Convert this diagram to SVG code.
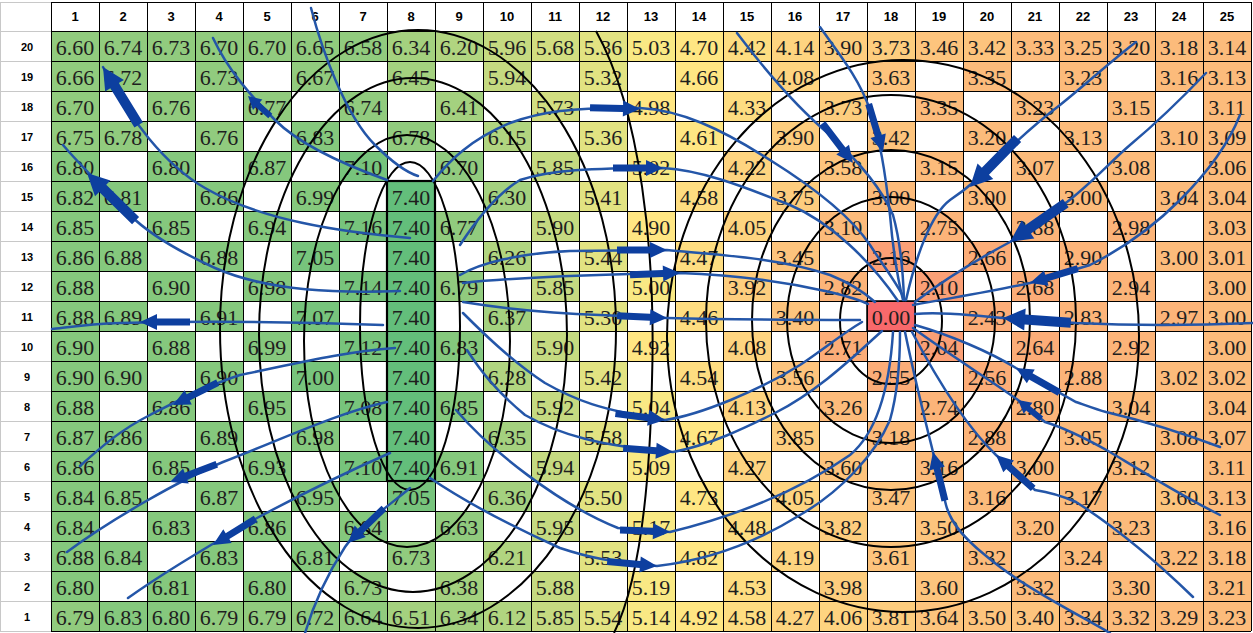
<svg xmlns="http://www.w3.org/2000/svg" width="1253" height="633" viewBox="0 0 1253 633">
<style>
.a{fill:#63BE7B}.b{fill:#77C47C}.c{fill:#85C87D}.d{fill:#91CB7E}.e{fill:#A4D17F}.f{fill:#B1D580}.g{fill:#C5DA81}.h{fill:#D2DE81}.i{fill:#E2E382}.j{fill:#F9E984}.k{fill:#FFE683}.l{fill:#FEDD81}.m{fill:#FED480}.n{fill:#FDCD7E}.o{fill:#FDC47D}.p{fill:#FCBB7B}.q{fill:#FCB479}.s{fill:#FCAD78}.t{fill:#FBA076}.u{fill:#F8696B}
.v text{font-family:"Liberation Serif","Times New Roman",serif;font-size:22px;fill:#1e1e1e;text-anchor:middle}
.hd text{font-family:"Liberation Sans",Arial,sans-serif;font-weight:bold;font-size:13px;fill:#000;text-anchor:middle}
.rl text{font-family:"Liberation Sans",Arial,sans-serif;font-weight:bold;font-size:11px;fill:#000;text-anchor:middle}
.grid{stroke:#000;stroke-width:1;fill:none;shape-rendering:crispEdges}
.lgrid{stroke:#c8c8c8;stroke-width:1;fill:none;shape-rendering:crispEdges}
.blk{fill:none;stroke:#000;stroke-width:2}
.fl{fill:none;stroke:#2456a8;stroke-width:2.5;stroke-linecap:round}
.ar{fill:none;stroke:none}
</style>
<defs>
<marker id="as" markerUnits="userSpaceOnUse" viewBox="-32 -9 34 18" markerWidth="34" markerHeight="18" refX="0" refY="0" orient="auto" overflow="visible"><path d="M-30,-3 L-13,-3 L-13,-7 L0,0 L-13,7 L-13,3 L-30,3 Z" fill="#0d3f9f"/></marker>
<marker id="am" markerUnits="userSpaceOnUse" viewBox="-52 -9 54 18" markerWidth="54" markerHeight="18" refX="0" refY="0" orient="auto" overflow="visible"><path d="M-50,-3.5 L-17,-3.5 L-17,-8 L0,0 L-17,8 L-17,3.5 L-50,3.5 Z" fill="#0d3f9f"/></marker>
<marker id="al" markerUnits="userSpaceOnUse" viewBox="-70 -12 72 24" markerWidth="72" markerHeight="24" refX="0" refY="0" orient="auto" overflow="visible"><path d="M-68,-5 L-22,-5 L-22,-11 L0,0 L-22,11 L-22,5 L-68,5 Z" fill="#0d3f9f"/></marker>
</defs>
<rect x="0" y="0" width="1253" height="633" fill="#fff"/>
<g id="cells">
<rect class="d" x="51" y="31" width="48" height="30"/><rect class="d" x="99" y="31" width="48" height="30"/><rect class="d" x="147" y="31" width="48" height="30"/><rect class="d" x="195" y="31" width="48" height="30"/><rect class="d" x="243" y="31" width="48" height="30"/><rect class="d" x="291" y="31" width="48" height="30"/><rect class="d" x="339" y="31" width="48" height="30"/><rect class="e" x="387" y="31" width="48" height="30"/><rect class="f" x="435" y="31" width="48" height="30"/><rect class="g" x="483" y="31" width="48" height="30"/><rect class="h" x="531" y="31" width="48" height="30"/><rect class="i" x="579" y="31" width="48" height="30"/><rect class="j" x="627" y="31" width="48" height="30"/><rect class="k" x="675" y="31" width="48" height="30"/><rect class="l" x="723" y="31" width="48" height="30"/><rect class="m" x="771" y="31" width="48" height="30"/><rect class="n" x="819" y="31" width="48" height="30"/><rect class="n" x="867" y="31" width="48" height="30"/><rect class="o" x="915" y="31" width="48" height="30"/><rect class="o" x="963" y="31" width="48" height="30"/><rect class="p" x="1011" y="31" width="48" height="30"/><rect class="p" x="1059" y="31" width="48" height="30"/><rect class="p" x="1107" y="31" width="48" height="30"/><rect class="p" x="1155" y="31" width="48" height="30"/><rect class="p" x="1203" y="31" width="48" height="30"/>
<rect class="d" x="51" y="61" width="48" height="30"/><rect class="d" x="99" y="61" width="48" height="30"/><rect class="d" x="195" y="61" width="48" height="30"/><rect class="d" x="291" y="61" width="48" height="30"/><rect class="e" x="387" y="61" width="48" height="30"/><rect class="g" x="483" y="61" width="48" height="30"/><rect class="i" x="579" y="61" width="48" height="30"/><rect class="k" x="675" y="61" width="48" height="30"/><rect class="m" x="771" y="61" width="48" height="30"/><rect class="o" x="867" y="61" width="48" height="30"/><rect class="p" x="963" y="61" width="48" height="30"/><rect class="p" x="1059" y="61" width="48" height="30"/><rect class="p" x="1155" y="61" width="48" height="30"/><rect class="p" x="1203" y="61" width="48" height="30"/>
<rect class="d" x="51" y="91" width="48" height="30"/><rect class="d" x="147" y="91" width="48" height="30"/><rect class="d" x="243" y="91" width="48" height="30"/><rect class="d" x="339" y="91" width="48" height="30"/><rect class="e" x="435" y="91" width="48" height="30"/><rect class="h" x="531" y="91" width="48" height="30"/><rect class="k" x="627" y="91" width="48" height="30"/><rect class="l" x="723" y="91" width="48" height="30"/><rect class="n" x="819" y="91" width="48" height="30"/><rect class="p" x="915" y="91" width="48" height="30"/><rect class="p" x="1011" y="91" width="48" height="30"/><rect class="p" x="1107" y="91" width="48" height="30"/><rect class="p" x="1203" y="91" width="48" height="30"/>
<rect class="d" x="51" y="121" width="48" height="30"/><rect class="d" x="99" y="121" width="48" height="30"/><rect class="d" x="195" y="121" width="48" height="30"/><rect class="c" x="291" y="121" width="48" height="30"/><rect class="d" x="387" y="121" width="48" height="30"/><rect class="f" x="483" y="121" width="48" height="30"/><rect class="i" x="579" y="121" width="48" height="30"/><rect class="k" x="675" y="121" width="48" height="30"/><rect class="n" x="771" y="121" width="48" height="30"/><rect class="o" x="867" y="121" width="48" height="30"/><rect class="p" x="963" y="121" width="48" height="30"/><rect class="p" x="1059" y="121" width="48" height="30"/><rect class="p" x="1155" y="121" width="48" height="30"/><rect class="p" x="1203" y="121" width="48" height="30"/>
<rect class="c" x="51" y="151" width="48" height="30"/><rect class="c" x="147" y="151" width="48" height="30"/><rect class="c" x="243" y="151" width="48" height="30"/><rect class="b" x="339" y="151" width="48" height="30"/><rect class="d" x="435" y="151" width="48" height="30"/><rect class="g" x="531" y="151" width="48" height="30"/><rect class="j" x="627" y="151" width="48" height="30"/><rect class="m" x="723" y="151" width="48" height="30"/><rect class="o" x="819" y="151" width="48" height="30"/><rect class="p" x="915" y="151" width="48" height="30"/><rect class="p" x="1011" y="151" width="48" height="30"/><rect class="p" x="1107" y="151" width="48" height="30"/><rect class="p" x="1203" y="151" width="48" height="30"/>
<rect class="c" x="51" y="181" width="48" height="30"/><rect class="c" x="99" y="181" width="48" height="30"/><rect class="c" x="195" y="181" width="48" height="30"/><rect class="c" x="291" y="181" width="48" height="30"/><rect class="a" x="387" y="181" width="48" height="30"/><rect class="e" x="483" y="181" width="48" height="30"/><rect class="i" x="579" y="181" width="48" height="30"/><rect class="l" x="675" y="181" width="48" height="30"/><rect class="n" x="771" y="181" width="48" height="30"/><rect class="p" x="867" y="181" width="48" height="30"/><rect class="p" x="963" y="181" width="48" height="30"/><rect class="p" x="1059" y="181" width="48" height="30"/><rect class="p" x="1155" y="181" width="48" height="30"/><rect class="p" x="1203" y="181" width="48" height="30"/>
<rect class="c" x="51" y="211" width="48" height="30"/><rect class="c" x="147" y="211" width="48" height="30"/><rect class="c" x="243" y="211" width="48" height="30"/><rect class="b" x="339" y="211" width="48" height="30"/><rect class="a" x="387" y="211" width="48" height="30"/><rect class="d" x="435" y="211" width="48" height="30"/><rect class="g" x="531" y="211" width="48" height="30"/><rect class="k" x="627" y="211" width="48" height="30"/><rect class="m" x="723" y="211" width="48" height="30"/><rect class="p" x="819" y="211" width="48" height="30"/><rect class="q" x="915" y="211" width="48" height="30"/><rect class="q" x="1011" y="211" width="48" height="30"/><rect class="q" x="1107" y="211" width="48" height="30"/><rect class="p" x="1203" y="211" width="48" height="30"/>
<rect class="c" x="51" y="241" width="48" height="30"/><rect class="c" x="99" y="241" width="48" height="30"/><rect class="c" x="195" y="241" width="48" height="30"/><rect class="b" x="291" y="241" width="48" height="30"/><rect class="a" x="387" y="241" width="48" height="30"/><rect class="f" x="483" y="241" width="48" height="30"/><rect class="i" x="579" y="241" width="48" height="30"/><rect class="l" x="675" y="241" width="48" height="30"/><rect class="o" x="771" y="241" width="48" height="30"/><rect class="t" x="867" y="241" width="48" height="30"/><rect class="s" x="963" y="241" width="48" height="30"/><rect class="q" x="1059" y="241" width="48" height="30"/><rect class="p" x="1155" y="241" width="48" height="30"/><rect class="p" x="1203" y="241" width="48" height="30"/>
<rect class="c" x="51" y="271" width="48" height="30"/><rect class="c" x="147" y="271" width="48" height="30"/><rect class="c" x="243" y="271" width="48" height="30"/><rect class="b" x="339" y="271" width="48" height="30"/><rect class="a" x="387" y="271" width="48" height="30"/><rect class="d" x="435" y="271" width="48" height="30"/><rect class="g" x="531" y="271" width="48" height="30"/><rect class="j" x="627" y="271" width="48" height="30"/><rect class="n" x="723" y="271" width="48" height="30"/><rect class="q" x="819" y="271" width="48" height="30"/><rect class="t" x="915" y="271" width="48" height="30"/><rect class="s" x="1011" y="271" width="48" height="30"/><rect class="q" x="1107" y="271" width="48" height="30"/><rect class="p" x="1203" y="271" width="48" height="30"/>
<rect class="c" x="51" y="301" width="48" height="30"/><rect class="c" x="99" y="301" width="48" height="30"/><rect class="c" x="195" y="301" width="48" height="30"/><rect class="b" x="291" y="301" width="48" height="30"/><rect class="a" x="387" y="301" width="48" height="30"/><rect class="e" x="483" y="301" width="48" height="30"/><rect class="i" x="579" y="301" width="48" height="30"/><rect class="l" x="675" y="301" width="48" height="30"/><rect class="o" x="771" y="301" width="48" height="30"/><rect class="u" x="867" y="301" width="48" height="30"/><rect class="s" x="963" y="301" width="48" height="30"/><rect class="q" x="1059" y="301" width="48" height="30"/><rect class="q" x="1155" y="301" width="48" height="30"/><rect class="p" x="1203" y="301" width="48" height="30"/>
<rect class="c" x="51" y="331" width="48" height="30"/><rect class="c" x="147" y="331" width="48" height="30"/><rect class="c" x="243" y="331" width="48" height="30"/><rect class="b" x="339" y="331" width="48" height="30"/><rect class="a" x="387" y="331" width="48" height="30"/><rect class="c" x="435" y="331" width="48" height="30"/><rect class="g" x="531" y="331" width="48" height="30"/><rect class="k" x="627" y="331" width="48" height="30"/><rect class="m" x="723" y="331" width="48" height="30"/><rect class="s" x="819" y="331" width="48" height="30"/><rect class="t" x="915" y="331" width="48" height="30"/><rect class="s" x="1011" y="331" width="48" height="30"/><rect class="q" x="1107" y="331" width="48" height="30"/><rect class="p" x="1203" y="331" width="48" height="30"/>
<rect class="c" x="51" y="361" width="48" height="30"/><rect class="c" x="99" y="361" width="48" height="30"/><rect class="c" x="195" y="361" width="48" height="30"/><rect class="b" x="291" y="361" width="48" height="30"/><rect class="a" x="387" y="361" width="48" height="30"/><rect class="f" x="483" y="361" width="48" height="30"/><rect class="i" x="579" y="361" width="48" height="30"/><rect class="l" x="675" y="361" width="48" height="30"/><rect class="o" x="771" y="361" width="48" height="30"/><rect class="s" x="867" y="361" width="48" height="30"/><rect class="s" x="963" y="361" width="48" height="30"/><rect class="q" x="1059" y="361" width="48" height="30"/><rect class="p" x="1155" y="361" width="48" height="30"/><rect class="p" x="1203" y="361" width="48" height="30"/>
<rect class="c" x="51" y="391" width="48" height="30"/><rect class="c" x="147" y="391" width="48" height="30"/><rect class="c" x="243" y="391" width="48" height="30"/><rect class="b" x="339" y="391" width="48" height="30"/><rect class="a" x="387" y="391" width="48" height="30"/><rect class="c" x="435" y="391" width="48" height="30"/><rect class="g" x="531" y="391" width="48" height="30"/><rect class="j" x="627" y="391" width="48" height="30"/><rect class="m" x="723" y="391" width="48" height="30"/><rect class="p" x="819" y="391" width="48" height="30"/><rect class="q" x="915" y="391" width="48" height="30"/><rect class="q" x="1011" y="391" width="48" height="30"/><rect class="p" x="1107" y="391" width="48" height="30"/><rect class="p" x="1203" y="391" width="48" height="30"/>
<rect class="c" x="51" y="421" width="48" height="30"/><rect class="c" x="99" y="421" width="48" height="30"/><rect class="c" x="195" y="421" width="48" height="30"/><rect class="c" x="291" y="421" width="48" height="30"/><rect class="a" x="387" y="421" width="48" height="30"/><rect class="e" x="483" y="421" width="48" height="30"/><rect class="i" x="579" y="421" width="48" height="30"/><rect class="k" x="675" y="421" width="48" height="30"/><rect class="n" x="771" y="421" width="48" height="30"/><rect class="p" x="867" y="421" width="48" height="30"/><rect class="q" x="963" y="421" width="48" height="30"/><rect class="p" x="1059" y="421" width="48" height="30"/><rect class="p" x="1155" y="421" width="48" height="30"/><rect class="p" x="1203" y="421" width="48" height="30"/>
<rect class="c" x="51" y="451" width="48" height="30"/><rect class="c" x="147" y="451" width="48" height="30"/><rect class="c" x="243" y="451" width="48" height="30"/><rect class="b" x="339" y="451" width="48" height="30"/><rect class="a" x="387" y="451" width="48" height="30"/><rect class="c" x="435" y="451" width="48" height="30"/><rect class="g" x="531" y="451" width="48" height="30"/><rect class="j" x="627" y="451" width="48" height="30"/><rect class="m" x="723" y="451" width="48" height="30"/><rect class="o" x="819" y="451" width="48" height="30"/><rect class="p" x="915" y="451" width="48" height="30"/><rect class="p" x="1011" y="451" width="48" height="30"/><rect class="p" x="1107" y="451" width="48" height="30"/><rect class="p" x="1203" y="451" width="48" height="30"/>
<rect class="c" x="51" y="481" width="48" height="30"/><rect class="c" x="99" y="481" width="48" height="30"/><rect class="c" x="195" y="481" width="48" height="30"/><rect class="c" x="291" y="481" width="48" height="30"/><rect class="b" x="387" y="481" width="48" height="30"/><rect class="e" x="483" y="481" width="48" height="30"/><rect class="i" x="579" y="481" width="48" height="30"/><rect class="k" x="675" y="481" width="48" height="30"/><rect class="m" x="771" y="481" width="48" height="30"/><rect class="o" x="867" y="481" width="48" height="30"/><rect class="p" x="963" y="481" width="48" height="30"/><rect class="p" x="1059" y="481" width="48" height="30"/><rect class="o" x="1155" y="481" width="48" height="30"/><rect class="p" x="1203" y="481" width="48" height="30"/>
<rect class="c" x="51" y="511" width="48" height="30"/><rect class="c" x="147" y="511" width="48" height="30"/><rect class="c" x="243" y="511" width="48" height="30"/><rect class="c" x="339" y="511" width="48" height="30"/><rect class="d" x="435" y="511" width="48" height="30"/><rect class="g" x="531" y="511" width="48" height="30"/><rect class="j" x="627" y="511" width="48" height="30"/><rect class="l" x="723" y="511" width="48" height="30"/><rect class="n" x="819" y="511" width="48" height="30"/><rect class="o" x="915" y="511" width="48" height="30"/><rect class="p" x="1011" y="511" width="48" height="30"/><rect class="p" x="1107" y="511" width="48" height="30"/><rect class="p" x="1203" y="511" width="48" height="30"/>
<rect class="c" x="51" y="541" width="48" height="30"/><rect class="c" x="99" y="541" width="48" height="30"/><rect class="c" x="195" y="541" width="48" height="30"/><rect class="c" x="291" y="541" width="48" height="30"/><rect class="d" x="387" y="541" width="48" height="30"/><rect class="f" x="483" y="541" width="48" height="30"/><rect class="i" x="579" y="541" width="48" height="30"/><rect class="k" x="675" y="541" width="48" height="30"/><rect class="m" x="771" y="541" width="48" height="30"/><rect class="o" x="867" y="541" width="48" height="30"/><rect class="p" x="963" y="541" width="48" height="30"/><rect class="p" x="1059" y="541" width="48" height="30"/><rect class="p" x="1155" y="541" width="48" height="30"/><rect class="p" x="1203" y="541" width="48" height="30"/>
<rect class="c" x="51" y="571" width="48" height="30"/><rect class="c" x="147" y="571" width="48" height="30"/><rect class="c" x="243" y="571" width="48" height="30"/><rect class="d" x="339" y="571" width="48" height="30"/><rect class="e" x="435" y="571" width="48" height="30"/><rect class="g" x="531" y="571" width="48" height="30"/><rect class="j" x="627" y="571" width="48" height="30"/><rect class="l" x="723" y="571" width="48" height="30"/><rect class="n" x="819" y="571" width="48" height="30"/><rect class="o" x="915" y="571" width="48" height="30"/><rect class="p" x="1011" y="571" width="48" height="30"/><rect class="p" x="1107" y="571" width="48" height="30"/><rect class="p" x="1203" y="571" width="48" height="30"/>
<rect class="d" x="51" y="601" width="48" height="30"/><rect class="c" x="99" y="601" width="48" height="30"/><rect class="c" x="147" y="601" width="48" height="30"/><rect class="d" x="195" y="601" width="48" height="30"/><rect class="d" x="243" y="601" width="48" height="30"/><rect class="d" x="291" y="601" width="48" height="30"/><rect class="d" x="339" y="601" width="48" height="30"/><rect class="e" x="387" y="601" width="48" height="30"/><rect class="e" x="435" y="601" width="48" height="30"/><rect class="f" x="483" y="601" width="48" height="30"/><rect class="g" x="531" y="601" width="48" height="30"/><rect class="i" x="579" y="601" width="48" height="30"/><rect class="j" x="627" y="601" width="48" height="30"/><rect class="k" x="675" y="601" width="48" height="30"/><rect class="l" x="723" y="601" width="48" height="30"/><rect class="m" x="771" y="601" width="48" height="30"/><rect class="m" x="819" y="601" width="48" height="30"/><rect class="n" x="867" y="601" width="48" height="30"/><rect class="o" x="915" y="601" width="48" height="30"/><rect class="o" x="963" y="601" width="48" height="30"/><rect class="o" x="1011" y="601" width="48" height="30"/><rect class="p" x="1059" y="601" width="48" height="30"/><rect class="p" x="1107" y="601" width="48" height="30"/><rect class="p" x="1155" y="601" width="48" height="30"/><rect class="p" x="1203" y="601" width="48" height="30"/>
</g>
<g id="gridlines">
<path class="lgrid" d="M0.5,2V631M0,2H51M0,31H51M0,61H51M0,91H51M0,121H51M0,151H51M0,181H51M0,211H51M0,241H51M0,271H51M0,301H51M0,331H51M0,361H51M0,391H51M0,421H51M0,451H51M0,481H51M0,511H51M0,541H51M0,571H51M0,601H51M0,631H51"/>
<path class="grid" d="M51,2H1251M51,31H1251M51,61H1251M51,91H1251M51,121H1251M51,151H1251M51,181H1251M51,211H1251M51,241H1251M51,271H1251M51,301H1251M51,331H1251M51,361H1251M51,391H1251M51,421H1251M51,451H1251M51,481H1251M51,511H1251M51,541H1251M51,571H1251M51,601H1251M51,631H1251M51,2V631M99,2V631M147,2V631M195,2V631M243,2V631M291,2V631M339,2V631M387,2V631M435,2V631M483,2V631M531,2V631M579,2V631M627,2V631M675,2V631M723,2V631M771,2V631M819,2V631M867,2V631M915,2V631M963,2V631M1011,2V631M1059,2V631M1107,2V631M1155,2V631M1203,2V631M1251,2V631"/>
<rect x="387" y="181" width="48" height="300" fill="none" stroke="#000" stroke-width="2.2"/>
<rect x="867" y="301" width="48" height="30" fill="none" stroke="#000" stroke-width="1.5"/>
</g>
<g id="headers" class="hd">
<text x="75" y="21">1</text><text x="123" y="21">2</text><text x="171" y="21">3</text><text x="219" y="21">4</text><text x="267" y="21">5</text><text x="315" y="21">6</text><text x="363" y="21">7</text><text x="411" y="21">8</text><text x="459" y="21">9</text><text x="507" y="21">10</text><text x="555" y="21">11</text><text x="603" y="21">12</text><text x="651" y="21">13</text><text x="699" y="21">14</text><text x="747" y="21">15</text><text x="795" y="21">16</text><text x="843" y="21">17</text><text x="891" y="21">18</text><text x="939" y="21">19</text><text x="987" y="21">20</text><text x="1035" y="21">21</text><text x="1083" y="21">22</text><text x="1131" y="21">23</text><text x="1179" y="21">24</text><text x="1227" y="21">25</text>
</g>
<g id="rowlabels" class="rl">
<text x="27" y="51">20</text><text x="27" y="81">19</text><text x="27" y="111">18</text><text x="27" y="141">17</text><text x="27" y="171">16</text><text x="27" y="201">15</text><text x="27" y="231">14</text><text x="27" y="261">13</text><text x="27" y="291">12</text><text x="27" y="321">11</text><text x="27" y="351">10</text><text x="27" y="381">9</text><text x="27" y="411">8</text><text x="27" y="441">7</text><text x="27" y="471">6</text><text x="27" y="501">5</text><text x="27" y="531">4</text><text x="27" y="561">3</text><text x="27" y="591">2</text><text x="27" y="621">1</text>
</g>
<g id="values" class="v">
<text x="75" y="55">6.60</text><text x="123" y="55">6.74</text><text x="171" y="55">6.73</text><text x="219" y="55">6.70</text><text x="267" y="55">6.70</text><text x="315" y="55">6.65</text><text x="363" y="55">6.58</text><text x="411" y="55">6.34</text><text x="459" y="55">6.20</text><text x="507" y="55">5.96</text><text x="555" y="55">5.68</text><text x="603" y="55">5.36</text><text x="651" y="55">5.03</text><text x="699" y="55">4.70</text><text x="747" y="55">4.42</text><text x="795" y="55">4.14</text><text x="843" y="55">3.90</text><text x="891" y="55">3.73</text><text x="939" y="55">3.46</text><text x="987" y="55">3.42</text><text x="1035" y="55">3.33</text><text x="1083" y="55">3.25</text><text x="1131" y="55">3.20</text><text x="1179" y="55">3.18</text><text x="1227" y="55">3.14</text>
<text x="75" y="85">6.66</text><text x="123" y="85">6.72</text><text x="219" y="85">6.73</text><text x="315" y="85">6.67</text><text x="411" y="85">6.45</text><text x="507" y="85">5.94</text><text x="603" y="85">5.32</text><text x="699" y="85">4.66</text><text x="795" y="85">4.08</text><text x="891" y="85">3.63</text><text x="987" y="85">3.35</text><text x="1083" y="85">3.23</text><text x="1179" y="85">3.16</text><text x="1227" y="85">3.13</text>
<text x="75" y="115">6.70</text><text x="171" y="115">6.76</text><text x="267" y="115">6.77</text><text x="363" y="115">6.74</text><text x="459" y="115">6.41</text><text x="555" y="115">5.73</text><text x="651" y="115">4.98</text><text x="747" y="115">4.33</text><text x="843" y="115">3.73</text><text x="939" y="115">3.35</text><text x="1035" y="115">3.23</text><text x="1131" y="115">3.15</text><text x="1227" y="115">3.11</text>
<text x="75" y="145">6.75</text><text x="123" y="145">6.78</text><text x="219" y="145">6.76</text><text x="315" y="145">6.83</text><text x="411" y="145">6.78</text><text x="507" y="145">6.15</text><text x="603" y="145">5.36</text><text x="699" y="145">4.61</text><text x="795" y="145">3.90</text><text x="891" y="145">3.42</text><text x="987" y="145">3.20</text><text x="1083" y="145">3.13</text><text x="1179" y="145">3.10</text><text x="1227" y="145">3.09</text>
<text x="75" y="175">6.80</text><text x="171" y="175">6.80</text><text x="267" y="175">6.87</text><text x="363" y="175">7.10</text><text x="459" y="175">6.70</text><text x="555" y="175">5.85</text><text x="651" y="175">5.02</text><text x="747" y="175">4.22</text><text x="843" y="175">3.58</text><text x="939" y="175">3.15</text><text x="1035" y="175">3.07</text><text x="1131" y="175">3.08</text><text x="1227" y="175">3.06</text>
<text x="75" y="205">6.82</text><text x="123" y="205">6.81</text><text x="219" y="205">6.86</text><text x="315" y="205">6.99</text><text x="411" y="205">7.40</text><text x="507" y="205">6.30</text><text x="603" y="205">5.41</text><text x="699" y="205">4.58</text><text x="795" y="205">3.75</text><text x="891" y="205">3.00</text><text x="987" y="205">3.00</text><text x="1083" y="205">3.00</text><text x="1179" y="205">3.04</text><text x="1227" y="205">3.04</text>
<text x="75" y="235">6.85</text><text x="171" y="235">6.85</text><text x="267" y="235">6.94</text><text x="363" y="235">7.16</text><text x="411" y="235">7.40</text><text x="459" y="235">6.77</text><text x="555" y="235">5.90</text><text x="651" y="235">4.90</text><text x="747" y="235">4.05</text><text x="843" y="235">3.10</text><text x="939" y="235">2.75</text><text x="1035" y="235">2.88</text><text x="1131" y="235">2.98</text><text x="1227" y="235">3.03</text>
<text x="75" y="265">6.86</text><text x="123" y="265">6.88</text><text x="219" y="265">6.88</text><text x="315" y="265">7.05</text><text x="411" y="265">7.40</text><text x="507" y="265">6.26</text><text x="603" y="265">5.44</text><text x="699" y="265">4.47</text><text x="795" y="265">3.45</text><text x="891" y="265">2.16</text><text x="987" y="265">2.66</text><text x="1083" y="265">2.90</text><text x="1179" y="265">3.00</text><text x="1227" y="265">3.01</text>
<text x="75" y="295">6.88</text><text x="171" y="295">6.90</text><text x="267" y="295">6.98</text><text x="363" y="295">7.14</text><text x="411" y="295">7.40</text><text x="459" y="295">6.79</text><text x="555" y="295">5.85</text><text x="651" y="295">5.00</text><text x="747" y="295">3.92</text><text x="843" y="295">2.82</text><text x="939" y="295">2.10</text><text x="1035" y="295">2.68</text><text x="1131" y="295">2.94</text><text x="1227" y="295">3.00</text>
<text x="75" y="325">6.88</text><text x="123" y="325">6.89</text><text x="219" y="325">6.91</text><text x="315" y="325">7.07</text><text x="411" y="325">7.40</text><text x="507" y="325">6.37</text><text x="603" y="325">5.30</text><text x="699" y="325">4.46</text><text x="795" y="325">3.40</text><text x="891" y="325">0.00</text><text x="987" y="325">2.43</text><text x="1083" y="325">2.83</text><text x="1179" y="325">2.97</text><text x="1227" y="325">3.00</text>
<text x="75" y="355">6.90</text><text x="171" y="355">6.88</text><text x="267" y="355">6.99</text><text x="363" y="355">7.12</text><text x="411" y="355">7.40</text><text x="459" y="355">6.83</text><text x="555" y="355">5.90</text><text x="651" y="355">4.92</text><text x="747" y="355">4.08</text><text x="843" y="355">2.71</text><text x="939" y="355">2.04</text><text x="1035" y="355">2.64</text><text x="1131" y="355">2.92</text><text x="1227" y="355">3.00</text>
<text x="75" y="385">6.90</text><text x="123" y="385">6.90</text><text x="219" y="385">6.90</text><text x="315" y="385">7.00</text><text x="411" y="385">7.40</text><text x="507" y="385">6.28</text><text x="603" y="385">5.42</text><text x="699" y="385">4.54</text><text x="795" y="385">3.56</text><text x="891" y="385">2.55</text><text x="987" y="385">2.56</text><text x="1083" y="385">2.88</text><text x="1179" y="385">3.02</text><text x="1227" y="385">3.02</text>
<text x="75" y="415">6.88</text><text x="171" y="415">6.86</text><text x="267" y="415">6.95</text><text x="363" y="415">7.08</text><text x="411" y="415">7.40</text><text x="459" y="415">6.85</text><text x="555" y="415">5.92</text><text x="651" y="415">5.04</text><text x="747" y="415">4.13</text><text x="843" y="415">3.26</text><text x="939" y="415">2.74</text><text x="1035" y="415">2.80</text><text x="1131" y="415">3.04</text><text x="1227" y="415">3.04</text>
<text x="75" y="445">6.87</text><text x="123" y="445">6.86</text><text x="219" y="445">6.89</text><text x="315" y="445">6.98</text><text x="411" y="445">7.40</text><text x="507" y="445">6.35</text><text x="603" y="445">5.58</text><text x="699" y="445">4.67</text><text x="795" y="445">3.85</text><text x="891" y="445">3.18</text><text x="987" y="445">2.88</text><text x="1083" y="445">3.05</text><text x="1179" y="445">3.08</text><text x="1227" y="445">3.07</text>
<text x="75" y="475">6.86</text><text x="171" y="475">6.85</text><text x="267" y="475">6.93</text><text x="363" y="475">7.10</text><text x="411" y="475">7.40</text><text x="459" y="475">6.91</text><text x="555" y="475">5.94</text><text x="651" y="475">5.09</text><text x="747" y="475">4.27</text><text x="843" y="475">3.60</text><text x="939" y="475">3.16</text><text x="1035" y="475">3.00</text><text x="1131" y="475">3.12</text><text x="1227" y="475">3.11</text>
<text x="75" y="505">6.84</text><text x="123" y="505">6.85</text><text x="219" y="505">6.87</text><text x="315" y="505">6.95</text><text x="411" y="505">7.05</text><text x="507" y="505">6.36</text><text x="603" y="505">5.50</text><text x="699" y="505">4.73</text><text x="795" y="505">4.05</text><text x="891" y="505">3.47</text><text x="987" y="505">3.16</text><text x="1083" y="505">3.17</text><text x="1179" y="505">3.60</text><text x="1227" y="505">3.13</text>
<text x="75" y="535">6.84</text><text x="171" y="535">6.83</text><text x="267" y="535">6.86</text><text x="363" y="535">6.84</text><text x="459" y="535">6.63</text><text x="555" y="535">5.95</text><text x="651" y="535">5.17</text><text x="747" y="535">4.48</text><text x="843" y="535">3.82</text><text x="939" y="535">3.50</text><text x="1035" y="535">3.20</text><text x="1131" y="535">3.23</text><text x="1227" y="535">3.16</text>
<text x="75" y="565">6.88</text><text x="123" y="565">6.84</text><text x="219" y="565">6.83</text><text x="315" y="565">6.81</text><text x="411" y="565">6.73</text><text x="507" y="565">6.21</text><text x="603" y="565">5.53</text><text x="699" y="565">4.82</text><text x="795" y="565">4.19</text><text x="891" y="565">3.61</text><text x="987" y="565">3.32</text><text x="1083" y="565">3.24</text><text x="1179" y="565">3.22</text><text x="1227" y="565">3.18</text>
<text x="75" y="595">6.80</text><text x="171" y="595">6.81</text><text x="267" y="595">6.80</text><text x="363" y="595">6.73</text><text x="459" y="595">6.38</text><text x="555" y="595">5.88</text><text x="651" y="595">5.19</text><text x="747" y="595">4.53</text><text x="843" y="595">3.98</text><text x="939" y="595">3.60</text><text x="1035" y="595">3.32</text><text x="1131" y="595">3.30</text><text x="1227" y="595">3.21</text>
<text x="75" y="625">6.79</text><text x="123" y="625">6.83</text><text x="171" y="625">6.80</text><text x="219" y="625">6.79</text><text x="267" y="625">6.79</text><text x="315" y="625">6.72</text><text x="363" y="625">6.64</text><text x="411" y="625">6.51</text><text x="459" y="625">6.34</text><text x="507" y="625">6.12</text><text x="555" y="625">5.85</text><text x="603" y="625">5.54</text><text x="651" y="625">5.14</text><text x="699" y="625">4.92</text><text x="747" y="625">4.58</text><text x="795" y="625">4.27</text><text x="843" y="625">4.06</text><text x="891" y="625">3.81</text><text x="939" y="625">3.64</text><text x="987" y="625">3.50</text><text x="1035" y="625">3.40</text><text x="1083" y="625">3.34</text><text x="1131" y="625">3.32</text><text x="1179" y="625">3.29</text><text x="1227" y="625">3.23</text>
</g>
<g id="contours">
<ellipse class="blk" cx="410" cy="326" rx="50" ry="164" stroke-width="3.5"/>
<ellipse class="blk" cx="407" cy="341" rx="103" ry="206"/>
<ellipse class="blk" cx="413" cy="335" rx="154" ry="257"/>
<ellipse class="blk" cx="418" cy="329" rx="198" ry="299"/>
<path class="blk" d="M596,31 C640,110 656,250 652,380 C650,480 640,580 614,633"/>
<ellipse class="blk" cx="891" cy="321" rx="51" ry="63"/>
<ellipse class="blk" cx="891" cy="320" rx="104" ry="123"/>
<ellipse class="blk" cx="891" cy="320" rx="139" ry="170"/>
<ellipse class="blk" cx="891" cy="321" rx="185" ry="226"/>
<ellipse class="blk" cx="903" cy="336" rx="236" ry="276"/>
</g>
<g id="connectors">
<path class="fl" d="M311,8 C322,50 345,115 375,145 C392,162 405,172 418,176"/>
<path class="fl" d="M387,180 C345,165 300,145 275,120 C250,95 228,70 213,38"/>
<path class="fl" d="M410,238 C340,232 260,220 205,188 C165,165 130,120 103,67"/>
<path class="fl" d="M400,291 C340,293 270,292 215,268 C180,252 150,235 130,215 C110,195 80,165 63,145"/>
<path class="fl" d="M383,325 C300,322 200,321 120,323 C90,324 70,327 52,329"/>
<path class="fl" d="M395,348 C340,352 290,365 240,375 C200,388 170,405 150,415 C120,430 100,448 80,466"/>
<path class="fl" d="M387,402 C340,412 280,440 223,462 C180,480 110,520 67,552"/>
<path class="fl" d="M390,453 C340,475 300,495 257,518 C210,545 160,575 128,598"/>
<path class="fl" d="M410,488 C390,505 360,525 345,547 C330,570 315,600 305,633"/>
<path class="fl" d="M433,181 C450,160 470,140 510,123 C540,112 570,107 640,108 C680,110 720,128 770,160 C810,185 850,215 870,245 C885,268 898,285 905,300"/>
<path class="fl" d="M460,245 C475,222 495,195 520,180 C550,170 590,168 663,168 C700,170 740,185 790,205 C830,222 870,260 898,301"/>
<path class="fl" d="M460,275 C480,263 520,253 570,251 L667,250 C720,255 780,258 830,275 C850,283 865,293 875,302"/>
<path class="fl" d="M463,283 C510,278 570,275 680,273 C740,275 790,283 830,292 C850,297 862,301 868,304"/>
<path class="fl" d="M463,302 C500,308 540,313 600,315 L667,318 C740,320 800,320 860,320"/>
<path class="fl" d="M463,313 C480,330 510,360 545,383 C575,400 600,410 665,420 C700,415 760,390 800,365 C825,348 845,332 862,322"/>
<path class="fl" d="M467,350 C480,370 495,390 525,415 C560,435 600,446 673,452 C710,445 745,428 775,413 C820,390 855,355 882,331"/>
<path class="fl" d="M456,410 C490,450 560,505 618,528 L670,532 C740,515 800,490 850,455 C880,430 890,380 893,332"/>
<path class="fl" d="M430,478 C470,505 520,530 560,548 C590,558 612,562 657,566 C710,560 760,540 800,515 C840,492 875,455 890,420 C897,395 900,360 900,332"/>
<path class="fl" d="M820,27 C840,55 860,80 870,110 C880,140 885,170 890,215 C893,250 898,280 903,300"/>
<path class="fl" d="M737,33 C765,70 800,110 830,135 C855,158 880,185 893,215 C900,240 903,270 904,300"/>
<path class="fl" d="M1136,42 C1110,62 1085,85 1060,105 C1040,120 1020,138 1000,157 C985,172 970,187 950,200 C930,215 915,260 906,300"/>
<path class="fl" d="M1206,73 C1185,95 1160,120 1130,145 C1110,162 1090,185 1063,205 L1010,242 C980,258 950,275 915,302"/>
<path class="fl" d="M1240,115 C1230,140 1210,170 1180,200 C1150,230 1120,250 1090,265 L1030,283 C990,292 950,298 913,305"/>
<path class="fl" d="M1253,323 C1180,326 1120,325 1076,323 L1003,318 C960,314 935,312 915,314"/>
<path class="fl" d="M1220,447 C1180,432 1140,420 1106,412 C1095,409 1085,405 1076,402 L1016,368 C990,352 950,335 915,325"/>
<path class="fl" d="M1220,515 C1180,495 1140,470 1110,452 C1085,438 1065,428 1045,422 L1018,400 C990,380 950,355 913,328"/>
<path class="fl" d="M1193,597 C1160,565 1120,530 1076,502 C1060,495 1048,492 1035,490 L996,455 C970,430 940,385 912,332"/>
<path class="fl" d="M1110,633 C1070,610 1020,585 985,555 C960,535 950,520 946,505 L933,452 C925,420 915,380 905,332"/>
</g>
<g id="arrows">
<path class="ar" d="M268,114 L248,96" marker-end="url(#as)"/>
<path class="ar" d="M140,127 L103,67" marker-end="url(#al)"/>
<path class="ar" d="M137,222 L87,173" marker-end="url(#al)"/>
<path class="ar" d="M193,322 L140,322" marker-end="url(#am)"/>
<path class="ar" d="M213,385 L173,405" marker-end="url(#am)"/>
<path class="ar" d="M223,462 L170,482" marker-end="url(#am)"/>
<path class="ar" d="M257,518 L213,545" marker-end="url(#am)"/>
<path class="ar" d="M377,515 L348,543" marker-end="url(#am)"/>
<path class="ar" d="M600,108 L640,109" marker-end="url(#am)"/>
<path class="ar" d="M613,168 L663,168" marker-end="url(#am)"/>
<path class="ar" d="M610,250 L667,250" marker-end="url(#am)"/>
<path class="ar" d="M623,275 L680,273" marker-end="url(#am)"/>
<path class="ar" d="M600,315 L667,318" marker-end="url(#am)"/>
<path class="ar" d="M612,413 L665,420" marker-end="url(#am)"/>
<path class="ar" d="M620,448 L673,452" marker-end="url(#am)"/>
<path class="ar" d="M618,530 L670,532" marker-end="url(#am)"/>
<path class="ar" d="M612,562 L657,566" marker-end="url(#am)"/>
<path class="ar" d="M871,112 L883,152" marker-end="url(#am)"/>
<path class="ar" d="M830,133 L853,163" marker-end="url(#am)"/>
<path class="ar" d="M1016,140 L970,187" marker-end="url(#al)"/>
<path class="ar" d="M1063,205 L1010,242" marker-end="url(#al)"/>
<path class="ar" d="M1090,265 L1030,283" marker-end="url(#am)"/>
<path class="ar" d="M1076,323 L1003,318" marker-end="url(#al)"/>
<path class="ar" d="M1076,402 L1016,368" marker-end="url(#am)"/>
<path class="ar" d="M1045,422 L1018,400" marker-end="url(#as)"/>
<path class="ar" d="M1035,490 L996,455" marker-end="url(#am)"/>
<path class="ar" d="M946,505 L933,452" marker-end="url(#am)"/>
</g>
</svg>
